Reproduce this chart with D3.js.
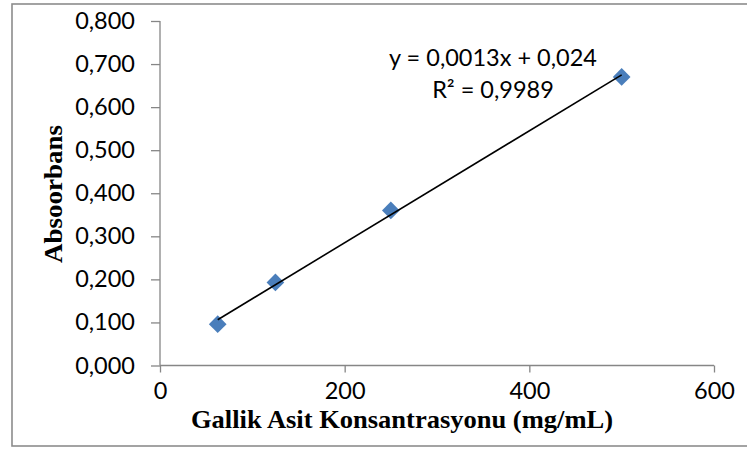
<!DOCTYPE html>
<html>
<head>
<meta charset="utf-8">
<script src="https://cdn.jsdelivr.net/npm/d3@7"></script>
<style>
  html, body { margin: 0; padding: 0; background: #fff; }
  svg { display: block; }
</style>
</head>
<body>
<svg id="chart" width="747" height="449"></svg>
<script>
// Gallic acid calibration: concentration vs. absorbance
const concentrations = [62.5, 125, 250, 500];
const absorbances = [0.096, 0.193, 0.360, 0.670];
const xTicks = [0, 200, 400, 600];
const yTicks = [0, 0.1, 0.2, 0.3, 0.4, 0.5, 0.6, 0.7, 0.8];
const equationText = "y = 0,0013x + 0,024";
const r2Text = "R² = 0,9989";
const xTitle = "Gallik Asit Konsantrasyonu (mg/mL)";
const yTitle = "Absoorbans";

const svg = d3.select("#chart");
const plot = { left: 160, right: 714, top: 21, bottom: 365.5 };

const x = d3.scaleLinear().domain([0, 600]).range([plot.left, plot.right]);
const y = d3.scaleLinear().domain([0, 0.8]).range([plot.bottom, plot.top]);

const axisColor = "#868686";
const labelFont = "Lato, 'Open Sans', sans-serif";
const titleFont = "'Liberation Serif', 'Times New Roman', serif";
const comma = v => d3.format(".3f")(v).replace(".", ",");

// outer chart frame
svg.append("rect")
  .attr("x", 12).attr("y", 4)
  .attr("width", 760).attr("height", 442)
  .attr("fill", "none")
  .attr("stroke", "#8c8c8c")
  .attr("stroke-width", 1.6);

// axes
const yAxis = svg.append("g")
  .attr("transform", `translate(${plot.left},0)`)
  .call(d3.axisLeft(y).tickValues(yTicks).tickFormat(comma).tickSize(9).tickPadding(16));
const xAxis = svg.append("g")
  .attr("transform", `translate(0,${plot.bottom})`)
  .call(d3.axisBottom(x).tickValues(xTicks).tickFormat(d3.format("d")).tickSize(7).tickPadding(10));

[yAxis, xAxis].forEach(g => {
  g.selectAll(".domain").attr("stroke", axisColor).attr("stroke-width", 1.3);
  g.selectAll(".tick line").attr("stroke", axisColor).attr("stroke-width", 1.3);
  g.selectAll(".tick text")
    .attr("fill", "#000")
    .style("font-family", labelFont)
    .style("font-size", "23.5px");
});
// plain axis lines without end caps
yAxis.select(".domain").attr("d", `M0,${plot.top}V${plot.bottom}`);
xAxis.select(".domain").attr("d", `M${plot.left},0H${plot.right}`);

// least-squares trend line over the measured range
const n = concentrations.length;
const mx = d3.mean(concentrations), my = d3.mean(absorbances);
let sxy = 0, sxx = 0;
for (let i = 0; i < n; i++) {
  sxy += (concentrations[i] - mx) * (absorbances[i] - my);
  sxx += (concentrations[i] - mx) ** 2;
}
const slope = sxy / sxx, intercept = my - slope * mx;
const x0 = d3.min(concentrations), x1 = d3.max(concentrations);

// markers
svg.append("g").selectAll("path")
  .data(concentrations)
  .join("path")
  .attr("transform", (d, i) => `translate(${x(d)},${y(absorbances[i])})`)
  .attr("d", d3.symbol(d3.symbolDiamond2, 200)())
  .attr("fill", "#4a7ebb");

svg.append("line")
  .attr("x1", x(x0)).attr("y1", y(slope * x0 + intercept))
  .attr("x2", x(x1)).attr("y2", y(slope * x1 + intercept))
  .attr("stroke", "#000").attr("stroke-width", 1.6);

// equation label
const eq = svg.append("g")
  .attr("text-anchor", "middle")
  .style("font-family", labelFont)
  .style("font-size", "23.5px");
eq.append("text").attr("x", 493).attr("y", 66).text(equationText);
eq.append("text").attr("x", 493).attr("y", 98).text(r2Text);

// axis titles
svg.append("text")
  .attr("x", 402).attr("y", 428)
  .attr("text-anchor", "middle")
  .attr("textLength", 422)
  .attr("lengthAdjust", "spacingAndGlyphs")
  .style("font-family", titleFont)
  .style("font-weight", "bold")
  .style("font-size", "25px")
  .text(xTitle);

svg.append("text")
  .attr("transform", "translate(61.5,194) rotate(-90)")
  .attr("text-anchor", "middle")
  .attr("textLength", 138)
  .attr("lengthAdjust", "spacingAndGlyphs")
  .style("font-family", titleFont)
  .style("font-weight", "bold")
  .style("font-size", "25px")
  .text(yTitle);
</script>
</body>
</html>
